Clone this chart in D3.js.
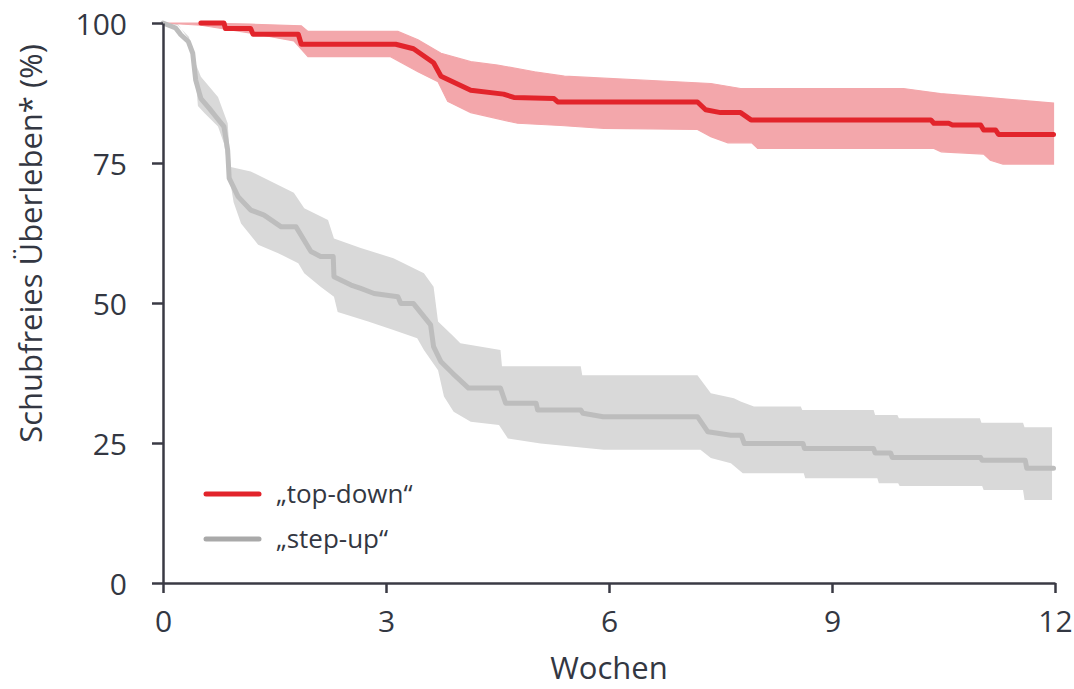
<!DOCTYPE html>
<html>
<head>
<meta charset="utf-8">
<script src="https://cdn.jsdelivr.net/npm/d3@7"></script>
<style>
  html, body { margin: 0; padding: 0; background: #ffffff; }
  svg { display: block; }
  text { font-family: "Open Sans", "Noto Sans", sans-serif; fill: #333742; }
</style>
</head>
<body>
<svg id="chart" width="1074" height="689"></svg>
<script>
// Kaplan-Meier estimates: [week, survival %]
const topDownCurve = [
  [0.51,100],[0.82,100],[0.84,99],[1.18,99],[1.21,98],[1.82,98],[1.86,96.2],
  [3.13,96.2],[3.37,95.4],[3.64,92.9],[3.74,90.5],[4.14,88],[4.58,87.3],
  [4.72,86.7],[5.26,86.5],[5.31,85.9],[7.19,85.9],[7.30,84.5],[7.50,84.0],
  [7.77,84.0],[7.91,82.7],[10.33,82.7],[10.37,82.1],[10.57,82.1],[10.62,81.8],
  [11.0,81.8],[11.04,80.9],[11.2,80.9],[11.24,80.1],[11.98,80.1]
];
const topDownUpper = [
  [0,100],[0.51,100],[1.18,99.8],[1.86,99.5],[1.95,98.5],[3.16,98.5],[3.43,97],
  [3.74,94.6],[4.14,93.1],[4.5,92.5],[5.0,91.3],[5.4,90.5],[7.37,89.2],
  [7.77,88.3],[9.96,88.3],[10.46,87.4],[11.0,86.8],[11.98,85.7]
];
const topDownLower = [
  [0,100],[0.51,99.6],[1.18,98.2],[1.76,96.8],[1.95,94],[3.06,94],[3.43,91.3],
  [3.7,89.5],[3.83,86],[4.14,84],[4.77,82.1],[5.35,81.7],[5.93,81.2],[7.19,81],
  [7.37,79.7],[7.6,78.6],[7.92,78.6],[8.0,77.6],[10.37,77.6],[10.47,77],
  [11.04,76.6],[11.13,75.5],[11.3,74.8],[11.98,74.8]
];

const stepUpCurve = [
  [0,100],[0.17,99.1],[0.24,97.9],[0.34,96.7],[0.40,94.6],[0.44,89.8],[0.51,86.5],
  [0.62,84.8],[0.71,83.3],[0.82,81.5],[0.87,77.3],[0.89,72.3],[1.01,69],
  [1.18,66.6],[1.36,65.7],[1.59,63.6],[1.79,63.6],[1.99,59.2],[2.12,58.3],
  [2.29,58.3],[2.30,54.7],[2.53,53.2],[2.66,52.6],[2.84,51.7],[3.16,51.1],
  [3.20,49.9],[3.37,49.9],[3.60,46.1],[3.64,42.2],[3.74,39.5],[3.90,37.4],
  [4.11,34.8],[4.54,34.8],[4.61,32.1],[5.02,32.1],[5.04,30.9],[5.62,30.9],
  [5.65,30.3],[5.92,29.7],[7.19,29.7],[7.33,27],[7.64,26.4],[7.78,26.4],
  [7.82,24.9],[8.61,24.9],[8.63,24.0],[9.56,24.0],[9.58,23.2],[9.79,23.2],
  [9.81,22.4],[11.0,22.4],[11.02,21.9],[11.6,21.9],[11.62,20.5],[11.98,20.5]
];
const stepUpUpper = [
  [0,100],[0.2,99.8],[0.35,97],[0.42,93.4],[0.51,90.4],[0.74,86.8],[0.87,82.1],
  [0.91,74.3],[1.18,73.5],[1.36,72.3],[1.76,69.7],[1.9,66.9],[2.22,64.8],
  [2.3,61.5],[2.66,59.8],[3.1,58],[3.51,55.3],[3.64,52.9],[3.70,46.7],[3.91,44],
  [4.0,42.8],[4.54,41.6],[4.56,38.7],[5.62,38.7],[5.64,37.1],[7.19,37.1],
  [7.37,33.9],[7.68,33],[7.77,32.4],[7.95,31.5],[8.58,31.5],[8.6,30.9],
  [9.56,30.9],[9.58,30],[9.88,30],[9.9,29.4],[10.99,29.4],[11.01,28.6],
  [11.57,28.6],[11.59,27.8],[11.96,27.8]
];
const stepUpLower = [
  [0,100],[0.2,99.6],[0.35,97.5],[0.42,93],[0.47,85.2],[0.56,83.9],[0.74,81.5],
  [0.82,78.5],[0.95,68],[1.05,64.2],[1.28,60.4],[1.55,58.9],[1.82,57.1],
  [1.9,55.3],[2.12,52.9],[2.30,51.1],[2.35,48.4],[2.76,46.7],[3.1,45.2],
  [3.42,43.7],[3.51,41.6],[3.7,38],[3.78,33.3],[3.91,30.6],[4.14,28.8],
  [4.52,28.2],[4.64,25.8],[5.08,24.9],[5.93,23.8],[7.23,23.8],[7.37,22.3],
  [7.64,21.4],[7.80,19.6],[8.62,19.6],[8.64,18.7],[9.61,18.7],[9.63,17.8],
  [9.89,17.8],[9.91,17.3],[11.02,17.3],[11.04,16.6],[11.57,16.6],[11.59,14.8],
  [11.96,14.8]
];

const xTicks = [0, 3, 6, 9, 12];
const yTicks = [0, 25, 50, 75, 100];
const seriesNames = ["\u201Etop-down\u201C", "\u201Estep-up\u201C"];

const svg = d3.select("#chart");
const margin = { top: 23, right: 19, bottom: 106, left: 163 };
const width = 1074 - margin.left - margin.right;
const height = 689 - margin.top - margin.bottom;

const x = d3.scaleLinear().domain([0, 12]).range([margin.left, margin.left + width]);
const y = d3.scaleLinear().domain([0, 100]).range([margin.top + height, margin.top]);

// Pair upper and lower bounds into a closed band polygon
function bandPath(upper, lower) {
  const pts = upper.map(d => [x(d[0]), y(d[1])])
    .concat(lower.slice().reverse().map(d => [x(d[0]), y(d[1])]));
  return d3.line().curve(d3.curveLinearClosed)(pts);
}
const line = d3.line().x(d => x(d[0])).y(d => y(d[1]));

const colors = {
  red: "#e2242b", redBand: "#f3a7ab",
  grey: "#bdbdbd", greyBand: "#d9d9d9", greyKey: "#a9a9a9"
};

// Confidence bands
svg.append("path").attr("d", bandPath(stepUpUpper, stepUpLower))
  .attr("fill", colors.greyBand);
svg.append("path").attr("d", bandPath(topDownUpper, topDownLower))
  .attr("fill", colors.redBand)
  .attr("stroke", colors.redBand).attr("stroke-width", 1.2);

// Survival curves
svg.append("path").datum(stepUpCurve).attr("d", line)
  .attr("fill", "none").attr("stroke", colors.grey).attr("stroke-width", 5)
  .attr("stroke-linejoin", "round").attr("stroke-linecap", "round");
svg.append("path").datum(topDownCurve).attr("d", line)
  .attr("fill", "none").attr("stroke", colors.red).attr("stroke-width", 5)
  .attr("stroke-linejoin", "round").attr("stroke-linecap", "round");

// Axes
const axisColor = "#3a3a44";
const yAxis = svg.append("g")
  .attr("transform", `translate(${margin.left},0)`)
  .call(d3.axisLeft(y).tickValues(yTicks).tickSize(11).tickSizeOuter(0).tickPadding(25));
const xAxis = svg.append("g")
  .attr("transform", `translate(0,${margin.top + height})`)
  .call(d3.axisBottom(x).tickValues(xTicks).tickSize(10).tickSizeOuter(0).tickPadding(18));

[yAxis, xAxis].forEach(g => {
  g.select(".domain").attr("stroke", axisColor).attr("stroke-width", 2.5);
  g.selectAll(".tick line").attr("stroke", axisColor).attr("stroke-width", 2.5);
  g.selectAll(".tick text")
    .attr("fill", "#333742")
    .style("font-size", "30px")
    .style("font-family", "'Open Sans', sans-serif");
});
yAxis.selectAll(".tick text").attr("dy", "0.38em");
xAxis.selectAll(".tick text").attr("dy", "0.71em");

// Axis titles
svg.append("text")
  .attr("x", 609)
  .attr("y", 679)
  .attr("text-anchor", "middle")
  .style("font-size", "31px")
  .text("Wochen");

svg.append("text")
  .attr("transform", `translate(42,${243.5}) rotate(-90)`)
  .attr("text-anchor", "middle")
  .style("font-size", "31px")
  .text("Schubfreies \u00DCberleben* (%)");

// Legend
const legend = svg.append("g");
[[colors.red, 494], [colors.greyKey, 539]].forEach((c, i) => {
  legend.append("line")
    .attr("x1", 206).attr("x2", 259).attr("y1", c[1]).attr("y2", c[1])
    .attr("stroke", c[0]).attr("stroke-width", 5).attr("stroke-linecap", "round");
  legend.append("text")
    .attr("x", 276).attr("y", c[1] + 9)
    .style("font-size", "26px")
    .text(seriesNames[i]);
});
</script>
</body>
</html>
